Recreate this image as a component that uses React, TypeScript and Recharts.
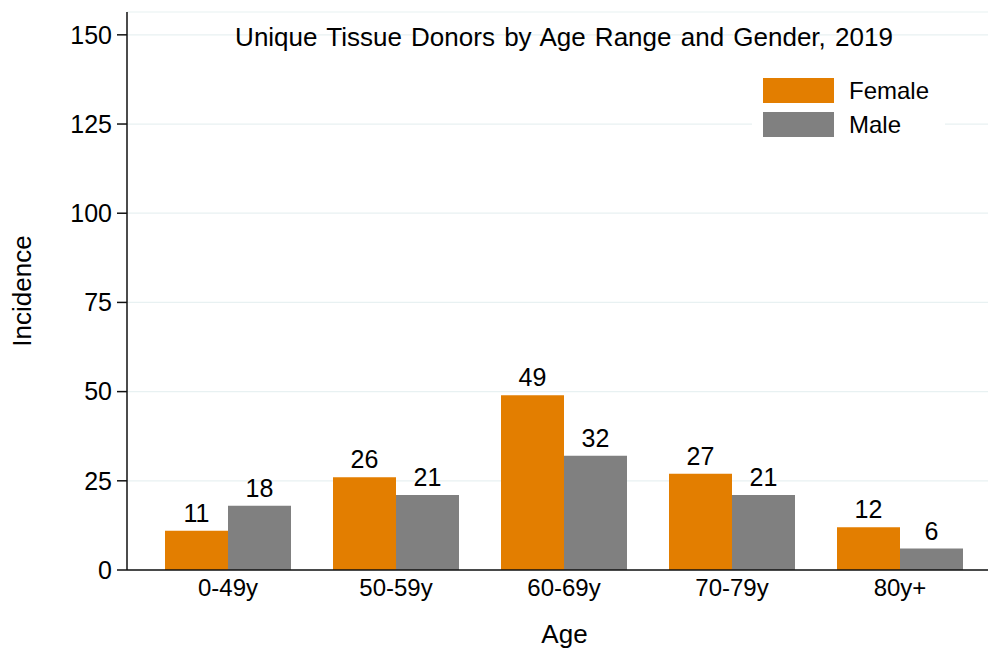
import { Bar, BarChart, CartesianGrid, LabelList, Legend, XAxis, YAxis } from 'recharts'

const ageRanges = ['0-49y', '50-59y', '60-69y', '70-79y', '80y+']
const female = [11, 26, 49, 27, 12]
const male = [18, 21, 32, 21, 6]
const yTicks = [0, 25, 50, 75, 100, 125, 150]

const FEMALE = '#e37e00'
const MALE = '#808080'
const FONT = '"Liberation Sans", Arial, sans-serif'

const data = ageRanges.map((age, i) => ({ age, Female: female[i], Male: male[i] }))

function LegendBox() {
  const items = [
    { name: 'Female', color: FEMALE },
    { name: 'Male', color: MALE },
  ]
  return (
    <div style={{ background: '#fff', padding: '10px 0 10px 11px', fontFamily: FONT }}>
      {items.map((it, i) => (
        <div key={it.name} style={{ display: 'flex', alignItems: 'center', height: 25, marginTop: i ? 9 : 0 }}>
          <div style={{ width: 71, height: 25, background: it.color }} />
          <span style={{ marginLeft: 15, fontSize: 24, color: '#000' }}>{it.name}</span>
        </div>
      ))}
    </div>
  )
}

export default function App() {
  return (
    <div style={{ position: 'absolute', left: 0, top: 0, width: 988, height: 651, background: '#fff' }}>
      <BarChart
        width={988}
        height={651}
        data={data}
        margin={{ top: 12, right: 0, left: 0, bottom: 0 }}
        barCategoryGap="12.5%"
        barGap={0}
        style={{ fontFamily: FONT }}
      >
        <CartesianGrid horizontal vertical={false} stroke="#e8f1f2" strokeWidth={1.2} />
        <XAxis
          dataKey="age"
          padding={{ left: 17, right: 4 }}
          tickLine={false}
          tickSize={0}
          tickMargin={9}
          tick={{ fontSize: 24, fill: '#000' }}
          axisLine={{ stroke: '#111', strokeWidth: 1.5 }}
          height={81}
          label={{ value: 'Age', position: 'insideBottom', offset: 8, dx: 7, fontSize: 26, fill: '#000' }}
        />
        <YAxis
          width={127}
          domain={[0, 156.4]}
          ticks={yTicks}
          tickSize={10}
          tickMargin={5}
          tick={{ fontSize: 25, fill: '#000' }}
          tickLine={{ stroke: '#111', strokeWidth: 1.5 }}
          axisLine={{ stroke: '#111', strokeWidth: 1.5 }}
          label={{
            value: 'Incidence',
            angle: -90,
            position: 'insideLeft',
            offset: 22,
            fontSize: 26,
            fill: '#000',
            style: { textAnchor: 'middle' },
          }}
        />
        <Legend
          layout="vertical"
          align="center"
          verticalAlign="middle"
          wrapperStyle={{ left: 752, top: 68, width: 193 }}
          content={() => <LegendBox />}
        />
        <Bar dataKey="Female" fill={FEMALE} isAnimationActive={false}>
          <LabelList dataKey="Female" position="top" offset={9} fontSize={25} fill="#000" />
        </Bar>
        <Bar dataKey="Male" fill={MALE} isAnimationActive={false}>
          <LabelList dataKey="Male" position="top" offset={9} fontSize={25} fill="#000" />
        </Bar>
      </BarChart>
      <div
        style={{
          position: 'absolute',
          left: 0,
          width: 1128,
          top: 24,
          textAlign: 'center',
          fontFamily: FONT,
          fontSize: 26,
          lineHeight: '26px',
          wordSpacing: 2,
          color: '#000',
        }}
      >
        Unique Tissue Donors by Age Range and Gender, 2019
      </div>
    </div>
  )
}
